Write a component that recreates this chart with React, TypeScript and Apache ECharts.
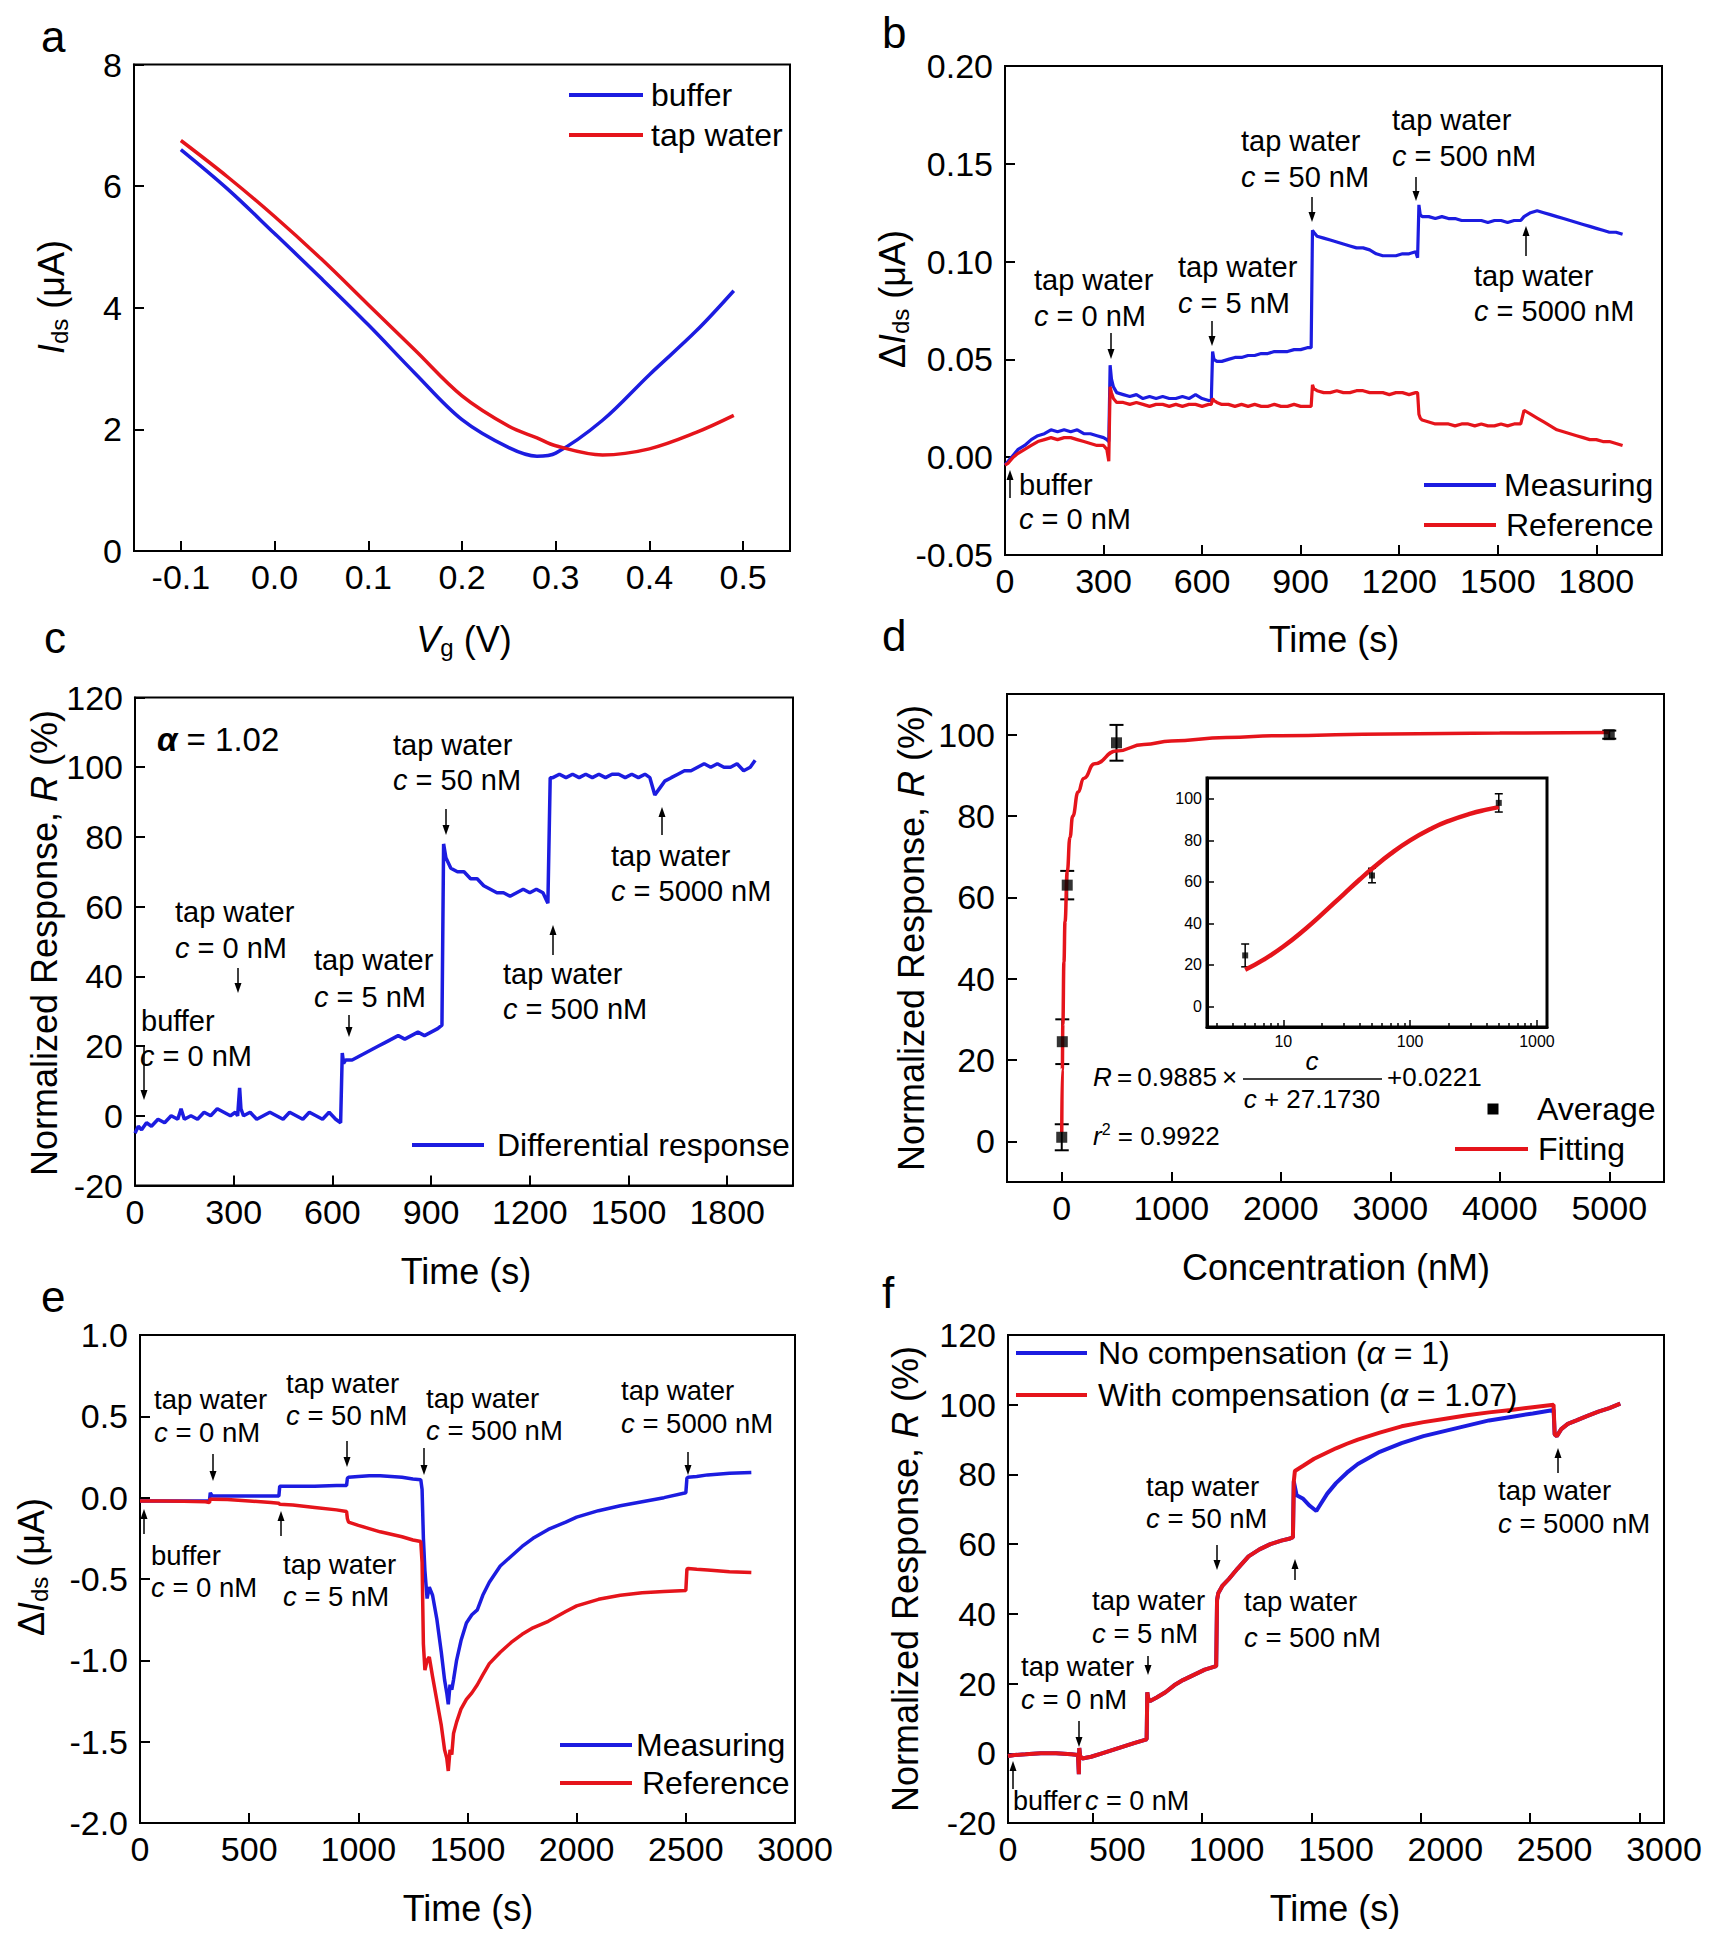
import React, { useEffect, useRef } from 'react';
import * as echarts from 'echarts';

const FONT = '"Liberation Sans", Arial, Helvetica, sans-serif';
const BLUE = '#1c1ce0';
const RED = '#e5141b';
const BLACK = '#000000';

// ---------- Panel a : transfer curves ----------
const A_VG = [-0.1, -0.05, 0, 0.05, 0.1, 0.15, 0.2, 0.25, 0.28, 0.3, 0.35, 0.4, 0.45, 0.49];
const A_BUFFER = [6.6, 5.95, 5.22, 4.48, 3.72, 2.92, 2.16, 1.7, 1.56, 1.61, 2.15, 2.9, 3.62, 4.28];
const A_TAP = [6.75, 6.15, 5.5, 4.8, 4.05, 3.3, 2.55, 2.05, 1.86, 1.73, 1.58, 1.68, 1.95, 2.23];
const A_XLABELS = [-0.1, 0, 0.1, 0.2, 0.3, 0.4, 0.5];

// ---------- Panel b : ΔIds vs time ----------
const B_MEAS = [[0,-0.004],[10,-0.002],[25,0.001],[40,0.004],[60,0.006],[80,0.009],[100,0.011],[120,0.012],[140,0.014],[160,0.013],[180,0.014],[200,0.013],[220,0.014],[240,0.012],[260,0.012],[280,0.011],[300,0.010],[310,0.009],[316,0.008],[320,0.047],[324,0.040],[330,0.036],[340,0.033],[360,0.032],[380,0.031],[400,0.032],[420,0.030],[440,0.031],[460,0.030],[480,0.031],[500,0.030],[520,0.030],[540,0.031],[560,0.030],[580,0.032],[600,0.030],[620,0.029],[628,0.029],[632,0.054],[636,0.050],[645,0.049],[660,0.049],[680,0.050],[700,0.051],[720,0.051],[740,0.052],[760,0.052],[780,0.053],[800,0.053],[820,0.054],[840,0.054],[860,0.054],[880,0.055],[900,0.055],[920,0.056],[932,0.056],[936,0.116],[940,0.115],[950,0.113],[970,0.112],[990,0.111],[1010,0.110],[1030,0.109],[1050,0.108],[1070,0.107],[1090,0.107],[1110,0.106],[1130,0.104],[1150,0.103],[1170,0.103],[1190,0.103],[1210,0.104],[1230,0.104],[1250,0.105],[1256,0.102],[1260,0.129],[1264,0.124],[1270,0.123],[1290,0.123],[1310,0.122],[1330,0.123],[1350,0.122],[1370,0.122],[1390,0.121],[1410,0.121],[1430,0.121],[1450,0.121],[1470,0.120],[1490,0.121],[1510,0.121],[1530,0.120],[1550,0.121],[1570,0.121],[1580,0.123],[1600,0.125],[1620,0.126],[1640,0.125],[1660,0.124],[1680,0.123],[1700,0.122],[1720,0.121],[1740,0.120],[1760,0.119],[1780,0.118],[1800,0.117],[1820,0.116],[1840,0.115],[1860,0.115],[1880,0.114]];
const B_REF = [[0,-0.004],[10,-0.003],[25,0.000],[40,0.002],[60,0.004],[80,0.006],[100,0.008],[120,0.009],[140,0.010],[160,0.009],[180,0.010],[200,0.010],[220,0.009],[240,0.008],[260,0.007],[280,0.006],[300,0.006],[310,0.004],[316,-0.002],[320,0.036],[324,0.033],[330,0.030],[340,0.028],[360,0.028],[380,0.027],[400,0.028],[420,0.027],[440,0.026],[460,0.027],[480,0.027],[500,0.026],[520,0.027],[540,0.026],[560,0.027],[580,0.027],[600,0.026],[620,0.027],[628,0.027],[632,0.030],[636,0.029],[645,0.028],[660,0.027],[680,0.027],[700,0.026],[720,0.027],[740,0.026],[760,0.027],[780,0.026],[800,0.026],[820,0.027],[840,0.026],[860,0.026],[880,0.027],[900,0.026],[920,0.026],[932,0.026],[936,0.037],[940,0.035],[950,0.034],[970,0.033],[990,0.033],[1010,0.034],[1030,0.033],[1050,0.033],[1070,0.034],[1090,0.034],[1110,0.033],[1130,0.033],[1150,0.033],[1170,0.032],[1190,0.033],[1210,0.033],[1230,0.032],[1250,0.033],[1256,0.033],[1260,0.022],[1264,0.020],[1270,0.019],[1290,0.018],[1310,0.017],[1330,0.017],[1350,0.017],[1370,0.016],[1390,0.017],[1410,0.017],[1430,0.016],[1450,0.017],[1470,0.016],[1490,0.016],[1510,0.017],[1530,0.016],[1550,0.017],[1570,0.017],[1580,0.024],[1600,0.022],[1620,0.020],[1640,0.018],[1660,0.016],[1680,0.014],[1700,0.013],[1720,0.012],[1740,0.011],[1760,0.010],[1780,0.009],[1800,0.009],[1820,0.008],[1840,0.008],[1860,0.007],[1880,0.006]];
const B_XLABELS = [0, 300, 600, 900, 1200, 1500, 1800];

// ---------- Panel c : differential response ----------
const C_DIFF = [[0,-5],[10,-3],[20,-4],[35,-2],[50,-3],[70,-1],[90,-2],[110,0],[130,-1],[140,2],[150,-1],[170,0],[190,-1],[210,1],[230,0],[250,2],[270,1],[290,0],[305,1],[312,0],[318,8],[322,2],[330,0],[350,1],[370,-1],[390,0],[410,1],[430,0],[450,-1],[470,1],[490,0],[510,-1],[530,1],[550,0],[570,-1],[590,1],[610,-1],[625,-2],[630,18],[634,15],[640,16],[660,16],[680,17],[700,18],[720,19],[740,20],[760,21],[780,22],[800,23],[820,22],[840,23],[860,24],[880,23],[900,24],[920,25],[933,26],[938,78],[945,74],[960,71],[980,70],[1000,70],[1020,68],[1040,68],[1060,66],[1080,65],[1100,64],[1120,64],[1140,63],[1160,64],[1180,65],[1200,64],[1220,65],[1240,64],[1255,61],[1262,97],[1270,97],[1290,98],[1310,97],[1330,98],[1350,97],[1370,98],[1390,97],[1410,98],[1430,97],[1450,98],[1470,98],[1490,97],[1510,98],[1530,97],[1550,98],[1565,97],[1580,92],[1595,94],[1610,96],[1630,97],[1650,98],[1670,99],[1690,99],[1710,100],[1730,101],[1750,100],[1770,101],[1790,100],[1810,100],[1830,101],[1850,99],[1870,100],[1885,102]];
const C_XLABELS = [0, 300, 600, 900, 1200, 1500, 1800];

// ---------- Panel d : calibration ----------
const D_POINTS = [[0, 1, 3.2], [5, 24.5, 5.5], [50, 63, 3.5], [500, 98, 4.4], [5000, 100, 1]]; // c, R, error
const FIT_C = [0, 5, 10, 20, 30, 50, 75, 100, 150, 200, 300, 500, 750, 1000, 1500, 2000, 3000, 4000, 5000];
const FIT_R = [2.21, 17.57, 28.8, 44.12, 54.08, 66.26, 74.77, 79.94, 85.9, 89.24, 92.85, 95.97, 97.6, 98.45, 99.3, 99.74, 100.17, 100.39, 100.53];
const INSET_C = [5, 7, 10, 15, 20, 30, 40, 50, 70, 100, 150, 200, 300, 400, 500];
const INSET_R = [17.57, 22.46, 28.8, 37.37, 44.12, 54.08, 61.07, 66.26, 73.42, 79.94, 85.9, 89.24, 92.85, 94.77, 95.97];
const D_XLABELS = [0, 1000, 2000, 3000, 4000, 5000];
const D_YLABELS = [0, 20, 40, 60, 80, 100];
const INSET_XLABELS = [10, 100, 1000];
const INSET_XMINOR = [3, 4, 5, 6, 7, 8, 9, 20, 30, 40, 50, 60, 70, 80, 90, 200, 300, 400, 500, 600, 700, 800, 900];

// ---------- Panel e ----------
const E_MEAS = [[0,-0.02],[100,-0.02],[200,-0.02],[300,-0.02],[318,-0.02],[322,0.03],[326,0.02],[332,0.01],[400,0.01],[500,0.01],[600,0.01],[636,0.01],[640,0.07],[700,0.07],[800,0.07],[900,0.075],[946,0.075],[950,0.12],[955,0.125],[1000,0.13],[1050,0.135],[1100,0.135],[1150,0.13],[1200,0.125],[1250,0.115],[1286,0.11],[1292,0.05],[1298,-0.25],[1305,-0.45],[1315,-0.62],[1325,-0.55],[1340,-0.6],[1360,-0.75],[1380,-0.95],[1395,-1.12],[1405,-1.2],[1412,-1.27],[1420,-1.15],[1428,-1.18],[1436,-1.12],[1450,-1.0],[1470,-0.88],[1495,-0.77],[1520,-0.72],[1545,-0.69],[1570,-0.6],[1600,-0.52],[1650,-0.42],[1700,-0.36],[1750,-0.3],[1800,-0.25],[1870,-0.195],[1950,-0.15],[2000,-0.12],[2100,-0.08],[2200,-0.05],[2300,-0.025],[2400,0.0],[2500,0.03],[2505,0.12],[2510,0.125],[2550,0.13],[2600,0.14],[2700,0.15],[2800,0.155]];
const E_REF = [[0,-0.02],[100,-0.02],[200,-0.022],[300,-0.025],[318,-0.03],[322,-0.005],[326,-0.01],[332,-0.01],[400,-0.012],[500,-0.02],[600,-0.03],[636,-0.035],[640,-0.04],[700,-0.045],[800,-0.06],[900,-0.075],[946,-0.085],[950,-0.13],[955,-0.15],[1000,-0.17],[1050,-0.19],[1100,-0.21],[1150,-0.225],[1200,-0.24],[1250,-0.26],[1286,-0.27],[1292,-0.4],[1298,-0.9],[1305,-1.06],[1315,-1.0],[1325,-0.98],[1340,-1.1],[1360,-1.25],[1380,-1.4],[1395,-1.55],[1405,-1.6],[1412,-1.68],[1420,-1.55],[1428,-1.58],[1436,-1.45],[1450,-1.38],[1470,-1.3],[1495,-1.24],[1520,-1.2],[1545,-1.15],[1570,-1.09],[1600,-1.02],[1650,-0.95],[1700,-0.89],[1750,-0.84],[1800,-0.8],[1870,-0.76],[1950,-0.7],[2000,-0.665],[2100,-0.625],[2200,-0.6],[2300,-0.585],[2400,-0.577],[2500,-0.57],[2505,-0.44],[2510,-0.435],[2550,-0.44],[2600,-0.445],[2700,-0.455],[2800,-0.46]];

// ---------- Panel f ----------
const F_COMMON = [[0,-0.8],[30,-0.5],[80,-0.3],[150,0],[220,0],[290,-0.3],[320,-0.5],[324,-6],[326,1.5],[330,-0.8],[340,-1.5],[380,-1],[430,0],[480,1],[530,2],[580,3],[634,4],[637,17.5],[642,15.5],[650,15],[680,16],[720,17.5],[760,19.5],[800,21],[850,22.5],[900,24],[952,25],[956,44],[962,46],[980,48],[1010,50],[1050,53],[1100,56.5],[1150,58.5],[1200,60],[1250,61],[1290,61.6],[1303,62],[1307,78]];
const F_NOCOMP_TAIL = [[1320,74],[1350,73],[1380,71],[1400,70],[1410,69.5],[1430,71.5],[1460,74.5],[1500,77.5],[1550,80.5],[1600,83],[1700,86.5],[1800,89],[1900,91],[2000,92.5],[2100,94],[2200,95.5],[2300,96.5],[2400,97.5],[2495,98.5],[2500,91.5],[2510,91],[2530,93],[2560,94.5],[2600,95.5],[2650,96.8],[2700,98],[2750,99],[2800,100.3]];
const F_COMP_TAIL = [[1312,81],[1350,82.5],[1400,84.5],[1450,86],[1500,87.5],[1550,88.8],[1600,90],[1700,92],[1800,93.8],[1900,95],[2000,96],[2100,97],[2200,97.8],[2300,98.5],[2400,99.3],[2495,100],[2500,91.5],[2510,91],[2530,93],[2560,94.5],[2600,95.5],[2650,96.8],[2700,98],[2750,99],[2800,100.3]];
const F_XTICKS = [388, 888, 1388, 1888, 2388, 2888];

// ---------- layout (pixels) ----------
const GRIDS = [
  { left: 134, top: 64.5, width: 656, height: 486.5 },
  { left: 1005, top: 66, width: 657, height: 489 },
  { left: 135, top: 697.5, width: 658, height: 488 },
  { left: 1007, top: 694, width: 657, height: 488 },
  { left: 140, top: 1335, width: 655, height: 488 },
  { left: 1008, top: 1335, width: 656, height: 488 },
  { left: 1207, top: 778, width: 340, height: 249 },
];

function richStyles(size: number) {
  const lh = Math.round(size * 1.15);
  const ss = Math.round(size * 0.66);
  const ps = Math.round(size * 0.6);
  return {
    n: { fontSize: size, fontFamily: FONT, fill: BLACK, lineHeight: lh },
    i: { fontSize: size, fontFamily: FONT, fontStyle: 'italic', fill: BLACK, lineHeight: lh },
    b: { fontSize: size, fontFamily: FONT, fontStyle: 'italic', fontWeight: 'bold', fill: BLACK, lineHeight: lh },
    s: { fontSize: ss, fontFamily: FONT, fill: BLACK, lineHeight: ss, verticalAlign: 'bottom' },
    p: { fontSize: ps, fontFamily: FONT, fill: BLACK, lineHeight: ps, verticalAlign: 'top' },
  };
}

function T(x: number, y: number, text: string, size: number, opt: any = {}) {
  const align = opt.align || 'left';
  return {
    type: 'text', x, y, rotation: opt.rot || 0, silent: true, z: 50,
    style: {
      text, rich: richStyles(size), fontSize: size, fontFamily: FONT, fill: BLACK,
      align, textAlign: align, verticalAlign: 'middle', textVerticalAlign: 'middle',
    },
  };
}
const n = (s: string) => `{n|${s}}`;
const cLine = (rest: string) => `{i|c}{n| = ${rest}}`;

function L(x1: number, x2: number, y: number, color: string, w = 4) {
  return { type: 'line', silent: true, z: 50, shape: { x1, y1: y, x2, y2: y }, style: { stroke: color, lineWidth: w } };
}

function arrow(x: number, yFrom: number, yTo: number) {
  const dir = yTo > yFrom ? 1 : -1;
  const hl = 10, hw = 3.5;
  return [
    { type: 'line', silent: true, z: 50, shape: { x1: x, y1: yFrom, x2: x, y2: yTo - dir * 6 }, style: { stroke: BLACK, lineWidth: 1.5 } },
    { type: 'polygon', silent: true, z: 50, shape: { points: [[x - hw, yTo - dir * hl], [x + hw, yTo - dir * hl], [x, yTo]] }, style: { fill: BLACK } },
  ];
}

function ann(x: number, y1: number, y2: number, second: string, size: number) {
  return [T(x, y1, n('tap water'), size), T(x, y2, cLine(second), size)];
}

const plain = (v: number) => String(v);

function axis(gridIndex: number, o: any) {
  return {
    type: o.type || 'value', gridIndex, min: o.min, max: o.max, interval: o.interval, logBase: o.logBase,
    position: o.position, scale: true,
    axisLine: { show: o.showLine !== false, onZero: false, lineStyle: { color: BLACK, width: o.lw || 2 } },
    axisTick: { show: true, inside: true, length: o.tickLen || 10, lineStyle: { color: BLACK, width: o.tickW || 2 }, customValues: o.tickValues },
    minorTick: { show: false },
    axisLabel: {
      show: o.showLabel !== false, color: BLACK, fontSize: o.fontSize || 34, fontFamily: FONT, margin: o.margin ?? 10,
      customValues: o.labelValues, formatter: o.formatter || plain, showMinLabel: true, showMaxLabel: true, hideOverlap: false,
    },
    splitLine: { show: false },
    splitArea: { show: false },
  };
}

function zip(xs: number[], ys: number[]) {
  return xs.map((x, i) => [x, ys[i]]);
}

function line(xi: number, data: any[], color: string, width: number, extra: any = {}) {
  return {
    type: 'line', xAxisIndex: xi, yAxisIndex: Math.min(xi, 6), data, showSymbol: false, symbol: 'none',
    lineStyle: { color, width }, itemStyle: { color }, emphasis: { disabled: true }, animation: false, z: 3, ...extra,
  };
}

function errorBars(xi: number, yi: number, data: any[], cap: number, w: number) {
  return {
    type: 'custom', xAxisIndex: xi, yAxisIndex: yi, data, encode: { x: 0, y: 1 }, z: 2, animation: false,
    renderItem: (params: any, api: any) => {
      const x = api.value(0), y = api.value(1), e = api.value(2);
      const hi = api.coord([x, y + e]);
      const lo = api.coord([x, y - e]);
      const st = { stroke: BLACK, lineWidth: w };
      return {
        type: 'group', children: [
          { type: 'line', shape: { x1: hi[0], y1: hi[1], x2: lo[0], y2: lo[1] }, style: st },
          { type: 'line', shape: { x1: hi[0] - cap, y1: hi[1], x2: hi[0] + cap, y2: hi[1] }, style: st },
          { type: 'line', shape: { x1: lo[0] - cap, y1: lo[1], x2: lo[0] + cap, y2: lo[1] }, style: st },
        ],
      };
    },
  };
}

function buildOption() {
  const grid = GRIDS.map((g, i) => ({
    ...g, show: true, borderColor: BLACK, borderWidth: i === 6 ? 3 : 2, backgroundColor: 'transparent',
    containLabel: false, outerBoundsMode: 'none',
  }));

  const xAxis = [
    axis(0, { min: -0.15, max: 0.55, labelValues: A_XLABELS, tickValues: A_XLABELS, formatter: (v: number) => v.toFixed(1), margin: 9 }),
    axis(1, { min: 0, max: 2000, labelValues: B_XLABELS, tickValues: B_XLABELS, margin: 9 }),
    axis(2, { min: 0, max: 2000, labelValues: C_XLABELS, tickValues: C_XLABELS, margin: 9 }),
    axis(3, { min: -500, max: 5500, labelValues: D_XLABELS, tickValues: D_XLABELS, margin: 9 }),
    axis(4, { min: 0, max: 3000, interval: 500, margin: 9 }),
    axis(5, { min: 0, max: 3000, interval: 500, tickValues: F_XTICKS, margin: 9 }),
    axis(6, { type: 'log', logBase: 10, min: 2.5, max: 1200, position: 'bottom', labelValues: INSET_XLABELS, tickValues: INSET_XLABELS, fontSize: 16, margin: 6, tickLen: 7, tickW: 1.5, lw: 3, formatter: (v: number) => String(Math.round(v)) }),
    axis(6, { type: 'log', logBase: 10, min: 2.5, max: 1200, position: 'bottom', showLine: false, showLabel: false, tickValues: INSET_XMINOR, tickLen: 4, tickW: 1.5 }),
  ];

  const yAxis = [
    axis(0, { min: 0, max: 8, interval: 2, margin: 12 }),
    axis(1, { min: -0.05, max: 0.2, interval: 0.05, margin: 12, formatter: (v: number) => v.toFixed(2) }),
    axis(2, { min: -20, max: 120, interval: 20, margin: 12 }),
    axis(3, { min: -10, max: 110, labelValues: D_YLABELS, tickValues: D_YLABELS, margin: 12 }),
    axis(4, { min: -2, max: 1, interval: 0.5, margin: 12, formatter: (v: number) => v.toFixed(1) }),
    axis(5, { min: -20, max: 120, interval: 20, margin: 12 }),
    axis(6, { min: -10, max: 110, labelValues: D_YLABELS, tickValues: D_YLABELS, fontSize: 16, margin: 5, tickLen: 7, tickW: 1.5, lw: 3 }),
  ];

  const insetPts = D_POINTS.filter((p) => p[0] > 0 && p[0] <= 500);
  const series: any[] = [
    line(0, zip(A_VG, A_BUFFER), BLUE, 3.5, { smooth: 0.35 }),
    line(0, zip(A_VG, A_TAP), RED, 3.5, { smooth: 0.35 }),
    line(1, B_MEAS, BLUE, 3.2),
    line(1, B_REF, RED, 3.2),
    line(2, C_DIFF, BLUE, 3.5),
    errorBars(3, 3, D_POINTS, 7, 2),
    line(3, zip(FIT_C, FIT_R), RED, 3.5, { smooth: true, smoothMonotone: 'x', z: 4 }),
    { type: 'scatter', xAxisIndex: 3, yAxisIndex: 3, data: D_POINTS.map((p) => [p[0], p[1]]), symbol: 'rect', symbolSize: 11, itemStyle: { color: BLACK }, z: 5, animation: false, emphasis: { disabled: true } },
    errorBars(6, 6, insetPts, 4, 1.5),
    line(6, zip(INSET_C, INSET_R), RED, 4.5, { smooth: true, yAxisIndex: 6, z: 4 }),
    { type: 'scatter', xAxisIndex: 6, yAxisIndex: 6, data: insetPts.map((p) => [p[0], p[1]]), symbol: 'rect', symbolSize: 6, itemStyle: { color: BLACK }, z: 5, animation: false, emphasis: { disabled: true } },
    line(4, E_MEAS, BLUE, 3.5),
    line(4, E_REF, RED, 3.5),
    line(5, F_COMMON.concat(F_NOCOMP_TAIL), BLUE, 4),
    line(5, F_COMMON.concat(F_COMP_TAIL), RED, 4),
  ];

  const rot = Math.PI / 2;
  const g: any[] = [
    // panel letters
    T(41, 36, n('a'), 44), T(882, 32, n('b'), 44), T(44, 637, n('c'), 44),
    T(882, 635, n('d'), 44), T(41, 1296, n('e'), 44), T(882, 1292, n('f'), 44),
    // x titles
    T(464, 639, '{i|V}{s|g}{n| (V)}', 36, { align: 'center' }),
    T(1334, 639, n('Time (s)'), 36, { align: 'center' }),
    T(466, 1271, n('Time (s)'), 36, { align: 'center' }),
    T(1336, 1267, n('Concentration (nM)'), 36, { align: 'center' }),
    T(468, 1908, n('Time (s)'), 36, { align: 'center' }),
    T(1335, 1908, n('Time (s)'), 36, { align: 'center' }),
    // y titles
    T(51, 297, '{i|I}{s|ds}{n| (μA)}', 36, { align: 'center', rot }),
    T(892, 299, '{n|Δ}{i|I}{s|ds}{n| (μA)}', 36, { align: 'center', rot }),
    T(44, 943, '{n|Normalized Response, }{i|R}{n| (%)}', 36, { align: 'center', rot }),
    T(911, 938, '{n|Normalized Response, }{i|R}{n| (%)}', 36, { align: 'center', rot }),
    T(31, 1567, '{n|Δ}{i|I}{s|ds}{n| (μA)}', 36, { align: 'center', rot }),
    T(905, 1579, '{n|Normalized Response, }{i|R}{n| (%)}', 36, { align: 'center', rot }),
    // legends
    L(569, 643, 95, BLUE), T(651, 95, n('buffer'), 32),
    L(569, 643, 135, RED), T(651, 135, n('tap water'), 32),
    L(1424, 1496, 485, BLUE), T(1504, 485, n('Measuring'), 32),
    L(1424, 1496, 525, RED), T(1506, 525, n('Reference'), 32),
    L(412, 484, 1145, BLUE), T(497, 1145, n('Differential response'), 32),
    { type: 'rect', silent: true, z: 50, shape: { x: 1487.5, y: 1103.5, width: 11, height: 11 }, style: { fill: BLACK } },
    T(1537, 1109, n('Average'), 32),
    L(1455, 1528, 1149, RED), T(1538, 1149, n('Fitting'), 32),
    L(560, 632, 1745, BLUE), T(636, 1745, n('Measuring'), 32),
    L(560, 632, 1783, RED), T(642, 1783, n('Reference'), 32),
    L(1016, 1087, 1353, BLUE), T(1098, 1353, '{n|No compensation (}{i|α}{n| = 1)}', 32),
    L(1016, 1087, 1395, RED), T(1098, 1395, '{n|With compensation (}{i|α}{n| = 1.07)}', 32),
    // panel c alpha
    T(157, 739, '{b|α}{n| = 1.02}', 33),
    // panel d formula
    T(1093, 1077, '{i|R}{n|\u2009=\u20090.9885\u2009×}', 26),
    T(1312, 1061, '{i|c}', 26, { align: 'center' }),
    { type: 'line', silent: true, z: 50, shape: { x1: 1243, y1: 1079, x2: 1382, y2: 1079 }, style: { stroke: BLACK, lineWidth: 1.5 } },
    T(1312, 1099, '{i|c}{n| + 27.1730}', 26, { align: 'center' }),
    T(1387, 1077, n('+0.0221'), 26),
    T(1093, 1136, '{i|r}{p|2}{n| = 0.9922}', 26),
    // panel b annotations
    T(1019, 485, n('buffer'), 29), T(1019, 519, cLine('0 nM'), 29), ...arrow(1010, 498, 470),
    ...ann(1034, 280, 316, '0 nM', 29), ...arrow(1111, 333, 359),
    ...ann(1178, 267, 303, '5 nM', 29), ...arrow(1212, 321, 346),
    ...ann(1241, 141, 177, '50 nM', 29), ...arrow(1312, 197, 222),
    ...ann(1392, 120, 156, '500 nM', 29), ...arrow(1416, 177, 201),
    ...ann(1474, 276, 311, '5000 nM', 29), ...arrow(1526, 256, 226),
    // panel c annotations
    T(141, 1021, n('buffer'), 29), T(140, 1056, cLine('0 nM'), 29), ...arrow(144, 1046, 1100),
    ...ann(175, 912, 948, '0 nM', 29), ...arrow(238, 968, 993),
    ...ann(314, 960, 997, '5 nM', 29), ...arrow(349, 1015, 1037),
    ...ann(393, 745, 780, '50 nM', 29), ...arrow(446, 809, 835),
    ...ann(503, 974, 1009, '500 nM', 29), ...arrow(553, 955, 925),
    ...ann(611, 856, 891, '5000 nM', 29), ...arrow(662, 835, 807),
    // panel e annotations
    T(151, 1555, n('buffer'), 27.5), T(151, 1587, cLine('0 nM'), 27.5), ...arrow(144, 1534, 1509),
    ...ann(154, 1399, 1432, '0 nM', 27.5), ...arrow(213, 1454, 1481),
    ...ann(286, 1383, 1415, '50 nM', 27.5), ...arrow(347, 1441, 1467),
    ...ann(426, 1398, 1430, '500 nM', 27.5), ...arrow(424, 1448, 1475),
    ...ann(621, 1390, 1423, '5000 nM', 27.5), ...arrow(688, 1452, 1475),
    ...ann(283, 1564, 1596, '5 nM', 27.5), ...arrow(281, 1536, 1511),
    // panel f annotations
    T(1013, 1801, n('buffer'), 27), T(1085, 1801, cLine('0 nM'), 27), ...arrow(1013, 1789, 1761),
    ...ann(1021, 1666, 1699, '0 nM', 27.5), ...arrow(1079, 1721, 1747),
    ...ann(1092, 1600, 1633, '5 nM', 27.5), ...arrow(1148, 1656, 1675),
    ...ann(1146, 1486, 1518, '50 nM', 27.5), ...arrow(1217, 1545, 1570),
    ...ann(1244, 1601, 1637, '500 nM', 27.5), ...arrow(1295, 1580, 1559),
    ...ann(1498, 1490, 1523, '5000 nM', 27.5), ...arrow(1558, 1473, 1448),
  ];

  return {
    animation: false,
    backgroundColor: '#ffffff',
    textStyle: { fontFamily: FONT },
    grid, xAxis, yAxis, series,
    graphic: { elements: g },
  };
}

export default function App() {
  const ref = useRef<HTMLDivElement>(null);
  useEffect(() => {
    const chart = echarts.init(ref.current as HTMLDivElement, null, { renderer: 'svg' });
    chart.setOption(buildOption() as any);
    return () => chart.dispose();
  }, []);
  return (
    <div
      ref={ref}
      style={{ position: 'absolute', left: 0, top: 0, width: 1718, height: 1950, background: '#fff' }}
    />
  );
}
